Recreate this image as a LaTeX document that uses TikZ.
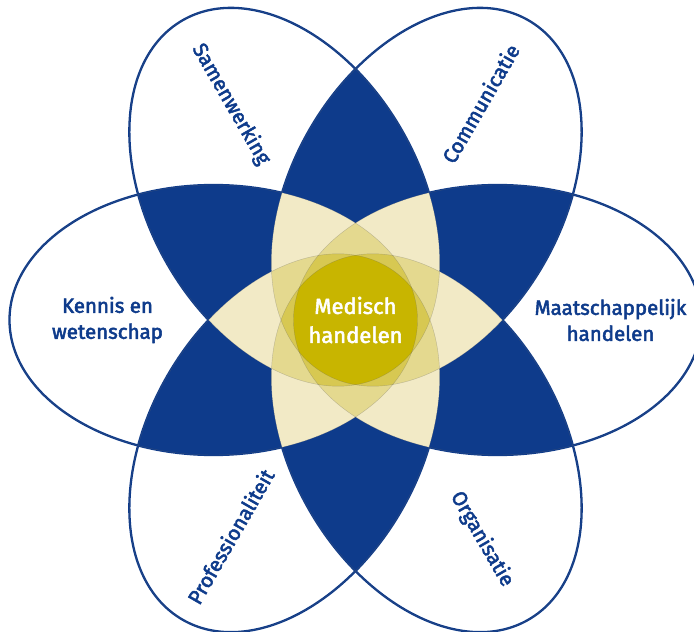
\documentclass[tikz,border=0pt]{standalone}
\usepackage{fontspec}
\setmainfont{Fira Sans}
\newfontfamily\ptlfont{Fira Sans}[FakeBold=2.5]
\usepackage{xcolor}
\definecolor{ptlblue}{HTML}{0E3B8B}
\definecolor{lyrthree}{HTML}{F2EAC6}
\definecolor{lyrfour}{HTML}{E4D98F}
\definecolor{lyrfive}{HTML}{D7C852}
\definecolor{lyrsix}{HTML}{C8B500}
\newcommand{\ptldist}{142pt}
\newcommand{\ptlrx}{204pt}
\newcommand{\ptlry}{135pt}
\newcommand{\ptlclip}[1]{\clip[rotate=60*#1]
  (\ptldist,0) ellipse [x radius=\ptlrx, y radius=\ptlry];}
\newcommand{\ptlfill}[2]{\fill[#2, rotate=60*#1]
  (\ptldist,0) ellipse [x radius=\ptlrx, y radius=\ptlry];}
\newcommand{\ptldraw}[2]{\draw[#2, rotate=60*#1]
  (\ptldist,0) ellipse [x radius=\ptlrx, y radius=\ptlry];}
\tikzset{
  ptllabel/.style={font=\ptlfont\fontsize{20.5}{26}\selectfont, text=ptlblue,
    align=center, inner sep=0pt},
  ptlcore/.style={font=\ptlfont\fontsize{22}{29}\selectfont, text=white,
    align=center, inner sep=0pt},
  ptledge/.style={ptlblue, line width=2.3pt},
  ptlseam/.style={black!60, opacity=0.35, line width=0.4pt}
}

\begin{document}
\begin{tikzpicture}[x=1pt,y=1pt]
    \fill[white] (-355.5,-312) rectangle (338.5,320);
    \useasboundingbox (-355.5,-312) rectangle (338.5,320);

    % two petals -> blue
    \foreach \pa in {0,...,5}{
      \foreach \pb in {0,...,5}{
        \ifnum\pb>\pa
          \begin{scope}
            \ptlclip{\pa}
            \ptlfill{\pb}{ptlblue}
          \end{scope}
        \fi}}
    \foreach \pa in {0,...,5}{\ptldraw{\pa}{ptledge}}

    % three petals
    \foreach \pa in {0,...,5}{
      \foreach \pb in {0,...,5}{
        \foreach \pc in {0,...,5}{
          \ifnum\pb>\pa \ifnum\pc>\pb
            \begin{scope}
              \ptlclip{\pa}\ptlclip{\pb}
              \ptlfill{\pc}{lyrthree}
            \end{scope}
          \fi\fi}}}

    % four petals
    \foreach \pa in {0,...,5}{
      \foreach \pb in {0,...,5}{
        \foreach \pc in {0,...,5}{
          \foreach \pd in {0,...,5}{
            \ifnum\pb>\pa \ifnum\pc>\pb \ifnum\pd>\pc
              \begin{scope}
                \ptlclip{\pa}\ptlclip{\pb}\ptlclip{\pc}
                \ptlfill{\pd}{lyrfour}
              \end{scope}
            \fi\fi\fi}}}}

    % five petals
    \foreach \pm in {0,...,5}{
      \begin{scope}
        \pgfmathtruncatemacro{\pqa}{mod(\pm+1,6)}
        \pgfmathtruncatemacro{\pqb}{mod(\pm+2,6)}
        \pgfmathtruncatemacro{\pqc}{mod(\pm+3,6)}
        \pgfmathtruncatemacro{\pqd}{mod(\pm+4,6)}
        \pgfmathtruncatemacro{\pqe}{mod(\pm+5,6)}
        \ptlclip{\pqa}\ptlclip{\pqb}\ptlclip{\pqc}\ptlclip{\pqd}
        \ptlfill{\pqe}{lyrfive}
      \end{scope}}

    % all six
    \begin{scope}
      \ptlclip{0}\ptlclip{1}\ptlclip{2}\ptlclip{3}\ptlclip{4}
      \ptlfill{5}{lyrsix}
    \end{scope}

    \foreach \pa in {0,...,5}{\ptldraw{\pa}{ptlseam}}

    \node[ptlcore] (medisch) at (0,0) {Medisch\\handelen};
    \node[ptllabel] (maatsch) at (0:255) {Maatschappelijk\\handelen};
    \node[ptllabel] (kennis) at (180:248) {Kennis en\\wetenschap};
    \node[ptllabel, rotate=60] (commun) at (60:250) {Communicatie};
    \node[ptllabel, rotate=-60] (samenw) at (120:249) {Samenwerking};
    \node[ptllabel, rotate=60] (profess) at (240:250) {Professionaliteit};
    \node[ptllabel, rotate=-60] (organis) at (300:253) {Organisatie};
\end{tikzpicture}
\end{document}
